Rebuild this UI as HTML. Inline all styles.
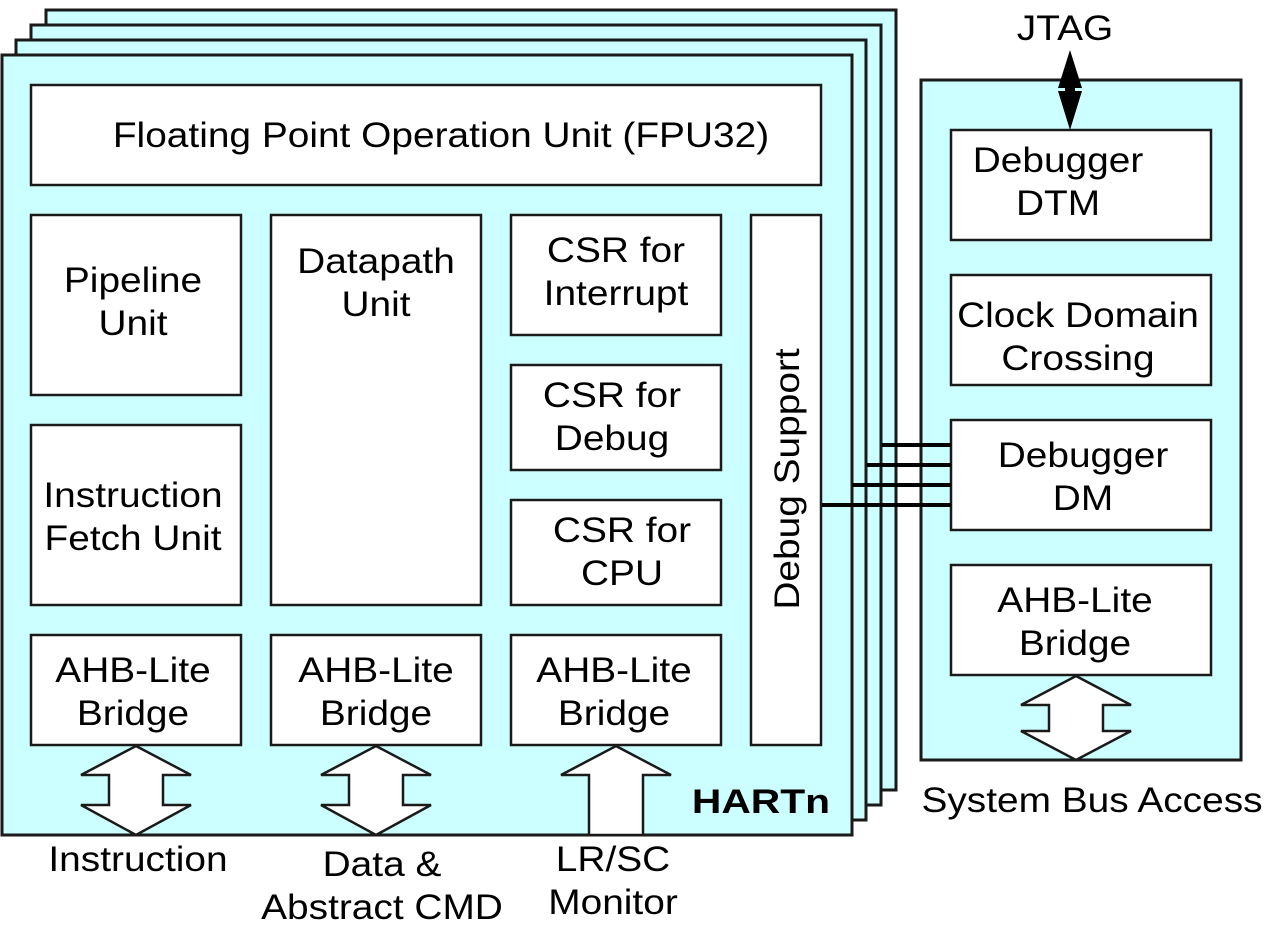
<!DOCTYPE html>
<html><head><style>body{margin:0;background:#fff}svg{display:block}text{font-family:"Liberation Sans",Arial,sans-serif;font-size:35px;fill:#000}</style></head><body>
<svg width="1281" height="935" viewBox="0 0 1281 935" xmlns="http://www.w3.org/2000/svg">
<g fill="#ccffff" stroke="#1a1a1a" stroke-width="3">
<rect x="46" y="10" width="850" height="780"/>
<rect x="31" y="25" width="850" height="780"/>
<rect x="16" y="40" width="850" height="780"/>
<rect x="2" y="55" width="850" height="780"/>
<rect x="921" y="80" width="320" height="680"/>
</g>
<g fill="#fff" stroke="#1a1a1a" stroke-width="2.5">
<rect x="31" y="85" width="790" height="100"/>
<rect x="31" y="215" width="210" height="180"/>
<rect x="31" y="425" width="210" height="180"/>
<rect x="31" y="635" width="210" height="110"/>
<rect x="271" y="215" width="210" height="390"/>
<rect x="271" y="635" width="210" height="110"/>
<rect x="511" y="215" width="210" height="120"/>
<rect x="511" y="365" width="210" height="105"/>
<rect x="511" y="500" width="210" height="105"/>
<rect x="511" y="635" width="210" height="110"/>
<rect x="751" y="215" width="70" height="530"/>
<rect x="951" y="130" width="260" height="110"/>
<rect x="951" y="275" width="260" height="110"/>
<rect x="951" y="420" width="260" height="110"/>
<rect x="951" y="565" width="260" height="110"/>
<polygon points="136,746 191,775 163,775 163,805 191,805 136,835 81,805 109,805 109,775 81,775"/>
<polygon points="376,746 431,775 403,775 403,805 431,805 376,835 321,805 349,805 349,775 321,775"/>
<polygon points="616,746 671,775 643,775 643,835 589,835 589,775 561,775"/>
<polygon points="1076,676 1131,705 1103,705 1103,731 1131,731 1076,760 1021,731 1049,731 1049,705 1021,705"/>
</g>
<g stroke="#000" stroke-width="4">
<line x1="882" y1="445" x2="951" y2="445"/>
<line x1="867" y1="465" x2="951" y2="465"/>
<line x1="852" y1="485" x2="951" y2="485"/>
<line x1="822" y1="505" x2="951" y2="505"/>
</g>
<polygon points="1070,50 1082,88 1075,88 1075,91 1082,91 1070,130 1058,91 1065,91 1065,88 1058,88" fill="#000"/>
<g text-anchor="middle">
<text transform="translate(441,147) scale(1.11 1)">Floating Point Operation Unit (FPU32)</text>
<text transform="translate(133,292) scale(1.11 1)">Pipeline</text><text transform="translate(133,335) scale(1.11 1)">Unit</text>
<text transform="translate(133,507) scale(1.11 1)">Instruction</text><text transform="translate(133,550) scale(1.11 1)">Fetch Unit</text>
<text transform="translate(133,682) scale(1.11 1)">AHB-Lite</text><text transform="translate(133,725) scale(1.11 1)">Bridge</text>
<text transform="translate(376,273) scale(1.11 1)">Datapath</text><text transform="translate(376,316) scale(1.11 1)">Unit</text>
<text transform="translate(376,682) scale(1.11 1)">AHB-Lite</text><text transform="translate(376,725) scale(1.11 1)">Bridge</text>
<text transform="translate(616,262) scale(1.11 1)">CSR for</text><text transform="translate(616,305) scale(1.11 1)">Interrupt</text>
<text transform="translate(612,407) scale(1.11 1)">CSR for</text><text transform="translate(612,450) scale(1.11 1)">Debug</text>
<text transform="translate(622,542) scale(1.11 1)">CSR for</text><text transform="translate(622,585) scale(1.11 1)">CPU</text>
<text transform="translate(614,682) scale(1.11 1)">AHB-Lite</text><text transform="translate(614,725) scale(1.11 1)">Bridge</text>
<text transform="translate(799,479) rotate(-90) scale(1.11 1)">Debug Support</text>
<text transform="translate(1058,172) scale(1.11 1)">Debugger</text><text transform="translate(1058,215) scale(1.11 1)">DTM</text>
<text transform="translate(1078,327) scale(1.11 1)">Clock Domain</text><text transform="translate(1078,370) scale(1.11 1)">Crossing</text>
<text transform="translate(1083,467) scale(1.11 1)">Debugger</text><text transform="translate(1083,510) scale(1.11 1)">DM</text>
<text transform="translate(1075,612) scale(1.11 1)">AHB-Lite</text><text transform="translate(1075,655) scale(1.11 1)">Bridge</text>
<text transform="translate(1065,40) scale(1.11 1)">JTAG</text>
<text transform="translate(138,871) scale(1.11 1)">Instruction</text>
<text transform="translate(382,876) scale(1.11 1)">Data &amp;</text><text transform="translate(382,919) scale(1.11 1)">Abstract CMD</text>
<text transform="translate(613,871) scale(1.11 1)">LR/SC</text><text transform="translate(613,914) scale(1.11 1)">Monitor</text>
<text transform="translate(1092,812) scale(1.11 1)">System Bus  Access</text>
<text transform="translate(761,813) scale(1.2 1)" style="font-weight:bold;font-size:34px">HARTn</text>
</g>
</svg>
</body></html>
